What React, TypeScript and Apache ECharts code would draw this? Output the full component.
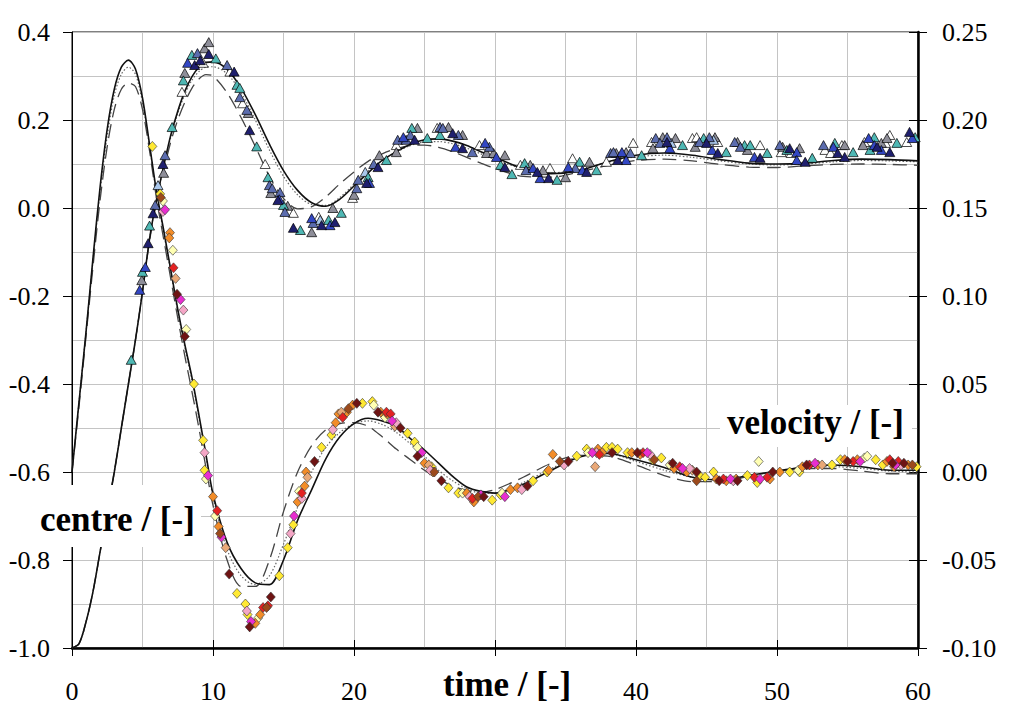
import { useEffect, useRef } from 'react';
import * as echarts from 'echarts';

// sample times shared by the model curves
const curveTime = [
  0, 0.5, 1, 1.5, 2, 2.5, 3, 3.5, 4, 4.5,
  5, 5.5, 6, 6.5, 7, 7.5, 8, 8.5, 9, 9.5,
  10, 11, 12, 13, 14, 15, 16, 17, 18, 19,
  20, 21, 22, 23, 24, 25, 26, 27, 28, 29,
  30, 32, 34, 36, 38, 40, 42, 44, 46, 48,
  50, 52, 54, 56, 58, 60,
];

// centre (left axis)
const centreSolid = [
  -1.0, -0.99, -0.94, -0.87, -0.78, -0.69, -0.6, -0.5, -0.4, -0.3,
  -0.19, -0.07, 0.02, 0.095, 0.165, 0.22, 0.265, 0.298, 0.32, 0.331,
  0.332, 0.315, 0.272, 0.212, 0.145, 0.085, 0.04, 0.012, 0.004, 0.02,
  0.05, 0.08, 0.108, 0.128, 0.145, 0.155, 0.157, 0.152, 0.142, 0.128,
  0.115, 0.09, 0.078, 0.085, 0.105, 0.12, 0.125, 0.12, 0.11, 0.102,
  0.1, 0.102, 0.108, 0.111, 0.11, 0.107,
];
const centreDotted = [
  -1.0, -0.99, -0.94, -0.87, -0.78, -0.69, -0.6, -0.5, -0.4, -0.3,
  -0.19, -0.07, 0.02, 0.093, 0.16, 0.215, 0.258, 0.29, 0.31, 0.32,
  0.321, 0.305, 0.262, 0.2, 0.132, 0.072, 0.03, 0.008, 0.006, 0.024,
  0.054, 0.084, 0.108, 0.127, 0.142, 0.15, 0.151, 0.146, 0.136, 0.123,
  0.11, 0.089, 0.08, 0.087, 0.104, 0.116, 0.12, 0.115, 0.107, 0.1,
  0.098, 0.1, 0.105, 0.108, 0.107, 0.105,
];
const centreDashed = [
  -1.0, -0.99, -0.94, -0.87, -0.78, -0.69, -0.6, -0.5, -0.4, -0.3,
  -0.19, -0.075, 0.015, 0.085, 0.15, 0.2, 0.24, 0.272, 0.293, 0.303,
  0.3, 0.262, 0.205, 0.14, 0.072, 0.022, -0.002, 0.003, 0.025, 0.055,
  0.082, 0.106, 0.123, 0.135, 0.142, 0.143, 0.138, 0.128, 0.115, 0.102,
  0.09, 0.072, 0.07, 0.082, 0.097, 0.108, 0.111, 0.107, 0.099, 0.093,
  0.092, 0.096, 0.099, 0.1, 0.099, 0.097,
];

// velocity (right axis)
const velocitySolid = [
  0.0, 0.04, 0.08, 0.1225, 0.1625, 0.195, 0.2175, 0.23, 0.234, 0.229,
  0.2125, 0.186, 0.159, 0.1375, 0.115, 0.0925, 0.0725, 0.054, 0.0325, 0.01,
  -0.0125, -0.04, -0.055, -0.063, -0.064, -0.05, -0.0275, -0.01, 0.0075, 0.02,
  0.0275, 0.0305, 0.029, 0.026, 0.019, 0.0125, 0.005, -0.0025, -0.0085, -0.011,
  -0.012, -0.007, 0.001, 0.0085, 0.0105, 0.007, 0.0025, -0.003, -0.0045, -0.002,
  0.0005, 0.003, 0.004, 0.003, 0.001, 0.001,
];
const velocityDotted = [
  0.0, 0.04, 0.08, 0.121, 0.16, 0.191, 0.214, 0.226, 0.23, 0.226,
  0.21, 0.185, 0.1575, 0.136, 0.114, 0.091, 0.071, 0.0525, 0.031, 0.009,
  -0.014, -0.044, -0.059, -0.064, -0.059, -0.041, -0.02, 0.0, 0.014, 0.0225,
  0.0275, 0.029, 0.027, 0.0225, 0.016, 0.009, 0.001, -0.005, -0.0095, -0.012,
  -0.012, -0.006, 0.002, 0.009, 0.0105, 0.006, 0.001, -0.003, -0.0045, -0.002,
  0.0005, 0.0025, 0.003, 0.002, 0.0005, 0.0,
];
const velocityDashed = [
  0.0, 0.0375, 0.0775, 0.1175, 0.155, 0.185, 0.206, 0.2175, 0.221, 0.219,
  0.206, 0.1825, 0.155, 0.1325, 0.11, 0.0875, 0.066, 0.046, 0.025, 0.0025,
  -0.019, -0.05, -0.065, -0.065, -0.05, -0.0225, 0.0, 0.015, 0.024, 0.0275,
  0.028, 0.026, 0.02, 0.013, 0.007, 0.001, -0.004, -0.008, -0.0105, -0.0115,
  -0.01, -0.003, 0.005, 0.0095, 0.009, 0.004, -0.002, -0.0055, -0.0055, -0.0025,
  0.0005, 0.002, 0.002, 0.0005, -0.001, -0.001,
];

// measured centre points [time, centre], one list per run colour
const centreNavy = [
  [5.4, -0.08], [5.75, -0.012], [6.45, 0.1], [8.7, 0.325], [9.1, 0.336], [9.7, 0.35], [11.5, 0.31],
  [12.6, 0.177], [14.6, 0.018], [15.7, -0.045], [17.7, -0.039], [18.65, -0.032], [20.9, 0.057],
  [21.7, 0.093], [24.3, 0.155], [27.0, 0.17], [27.7, 0.136], [30.7, 0.093], [33.0, 0.082],
  [33.8, 0.068], [36.5, 0.082], [38.7, 0.109], [42.2, 0.15], [45.0, 0.148], [45.8, 0.125],
  [48.8, 0.114], [50.9, 0.136], [52.0, 0.105], [54.3, 0.125], [54.8, 0.116], [57.1, 0.139],
  [58.0, 0.127], [59.4, 0.173],
];
const centreBlue = [
  [4.8, -0.186], [5.2, -0.134], [8.2, 0.33], [14.7, 0.02], [17.0, -0.023], [18.3, -0.039],
  [21.1, 0.057], [23.5, 0.161], [27.2, 0.139], [29.3, 0.148], [30.1, 0.116], [32.7, 0.091],
  [33.2, 0.068], [35.2, 0.093], [36.2, 0.086], [39.0, 0.127], [39.3, 0.109], [42.4, 0.136],
  [45.4, 0.132], [48.4, 0.116], [51.4, 0.127], [51.4, 0.109], [54.0, 0.139], [56.5, 0.159],
  [56.9, 0.143], [57.4, 0.132], [59.6, 0.159],
];
const centreSlate = [
  [5.9, 0.007], [6.6, 0.12], [8.9, 0.352], [11.0, 0.325], [11.9, 0.252], [12.4, 0.223],
  [14.0, 0.052], [14.2, 0.045], [14.75, 0.036], [15.1, -0.009], [17.1, -0.034], [20.2, 0.045],
  [20.3, 0.064], [21.4, 0.1], [23.1, 0.155], [23.7, 0.155], [24.0, 0.166], [26.1, 0.184],
  [26.3, 0.182], [27.4, 0.166], [28.4, 0.127], [29.6, 0.139], [32.2, 0.086], [35.7, 0.091],
  [38.2, 0.125], [38.4, 0.127], [39.6, 0.125], [41.4, 0.159], [41.7, 0.148], [42.2, 0.161],
  [44.5, 0.15], [45.2, 0.161], [47.0, 0.15], [47.4, 0.139], [50.2, 0.143], [53.3, 0.143],
];
const centreTeal = [
  [4.2, -0.345], [5.0, -0.145], [5.5, -0.04], [7.1, 0.184], [7.9, 0.29], [8.5, 0.348],
  [10.2, 0.34], [11.7, 0.28], [11.9, 0.273], [13.1, 0.14], [13.9, 0.07], [15.0, 0.007],
  [16.2, -0.05], [18.2, -0.027], [19.1, -0.011], [21.0, 0.07], [22.3, 0.109], [24.1, 0.182],
  [25.2, 0.159], [26.1, 0.166], [30.4, 0.098], [31.2, 0.077], [32.1, 0.102], [34.4, 0.064],
  [36.0, 0.105], [37.2, 0.086], [40.4, 0.12], [43.3, 0.143], [44.8, 0.159], [46.4, 0.127],
  [47.7, 0.143], [48.1, 0.143], [49.3, 0.125], [50.7, 0.132], [52.5, 0.114], [54.1, 0.148],
  [55.4, 0.127], [56.6, 0.132], [56.9, 0.161], [58.5, 0.148], [59.8, 0.161],
];
const centreGray = [
  [4.95, -0.164], [6.5, 0.08], [8.0, 0.307], [9.4, 0.363], [9.7, 0.377], [12.5, 0.216],
  [14.1, 0.034], [15.3, 0.005], [17.0, -0.055], [18.5, 0.0], [20.0, 0.03], [21.8, 0.12],
  [23.0, 0.127], [24.5, 0.182], [26.7, 0.184], [27.7, 0.166], [29.4, 0.125], [29.9, 0.125],
  [30.7, 0.12], [32.5, 0.098], [33.4, 0.086], [35.0, 0.07], [36.7, 0.105], [38.6, 0.125],
  [39.3, 0.127], [41.2, 0.136], [41.9, 0.161], [42.8, 0.159], [44.2, 0.139], [45.6, 0.161],
  [47.2, 0.15], [47.9, 0.132], [50.4, 0.139], [51.6, 0.136], [54.8, 0.143], [56.1, 0.143],
  [57.4, 0.148], [57.8, 0.159],
];
const centreWhite = [
  [7.8, 0.264], [9.3, 0.33], [11.2, 0.31], [12.1, 0.238], [13.7, 0.1], [15.7, -0.011],
  [17.5, -0.02], [19.9, 0.023], [23.0, 0.143], [25.9, 0.182], [28.9, 0.143], [31.8, 0.098],
  [33.9, 0.091], [35.5, 0.113], [37.9, 0.105], [39.8, 0.148], [41.1, 0.15], [44.0, 0.159],
  [44.3, 0.161], [45.8, 0.15], [48.8, 0.143], [50.3, 0.127], [51.0, 0.125], [53.4, 0.132],
  [53.8, 0.125], [54.6, 0.143], [56.2, 0.15], [57.7, 0.148], [58.0, 0.166], [59.2, 0.15],
];
const centreLightBlue = [
  [6.1, 0.052], [17.6, -0.027], [20.8, 0.082], [42.5, 0.148], [45.5, 0.155],
];

// measured velocity points [time, velocity], one list per run colour
const velocityYellow = [
  [5.7, 0.185], [6.25, 0.158], [8.65, 0.05], [9.3, 0.018], [9.4, 0.001], [11.7, -0.069],
  [12.3, -0.075], [12.45, -0.081], [14.7, -0.059], [15.3, -0.043], [15.7, -0.03], [17.7, 0.014],
  [18.4, 0.021], [20.6, 0.039], [21.3, 0.04], [23.8, 0.022], [24.3, 0.017], [25.5, 0.003],
  [26.7, -0.009], [27.4, -0.012], [29.8, -0.016], [30.4, -0.013], [32.7, -0.005], [33.7, 0.0],
  [35.8, 0.009], [36.5, 0.013], [37.9, 0.014], [38.3, 0.014], [38.7, 0.013], [39.4, 0.011],
  [41.2, 0.007], [41.8, 0.008], [44.5, -0.002], [44.9, -0.003], [45.5, 0.0], [47.9, -0.002],
  [48.6, -0.006], [50.9, 0.0], [51.6, 0.0], [53.9, 0.004], [54.5, 0.007], [57.0, 0.007],
  [57.5, 0.004], [59.9, 0.003],
];
const velocityLightYellow = [
  [6.45, 0.154], [7.15, 0.126], [8.1, 0.081], [9.5, -0.004], [10.15, -0.025], [13.2, -0.083],
  [16.1, -0.011], [21.4, 0.038], [22.2, 0.031], [24.5, 0.014], [27.7, -0.012], [30.5, -0.012],
  [36.6, 0.011], [42.4, 0.004], [48.7, 0.006], [51.5, 0.001], [56.2, 0.008], [56.4, 0.009],
];
const velocityOrange = [
  [6.95, 0.136], [6.9, 0.133], [10.0, -0.014], [10.4, -0.031], [13.0, -0.086], [13.35, -0.081],
  [16.0, -0.017], [16.6, 0.0], [16.5, -0.008], [18.7, 0.028], [18.9, 0.033], [19.5, 0.034],
  [19.9, 0.038], [21.9, 0.034], [22.35, 0.033], [25.0, 0.005], [25.6, 0.0], [28.0, -0.012],
  [28.5, -0.017], [31.1, -0.01], [31.6, -0.009], [33.8, 0.001], [34.1, 0.01], [37.3, 0.013],
  [37.6, 0.011], [39.7, 0.011], [40.3, 0.01], [42.7, 0.002], [43.6, 0.0], [45.7, -0.004],
  [46.4, -0.005], [47.1, -0.004], [49.5, -0.004], [50.2, 0.0], [51.8, 0.003], [52.9, 0.004],
  [54.8, 0.007], [55.7, 0.007], [57.8, 0.006], [58.3, 0.003], [59.3, 0.004],
];
const velocityRed = [
  [7.2, 0.116], [10.3, -0.022], [13.55, -0.077], [13.9, -0.076], [16.3, -0.012], [19.2, 0.031],
  [22.3, 0.034], [22.6, 0.033], [28.4, -0.015], [37.4, 0.01], [40.5, 0.011], [43.1, 0.003],
  [46.2, -0.004], [48.4, -0.003], [49.3, -0.003], [52.3, 0.004], [55.4, 0.006], [58.0, 0.007],
  [58.6, 0.006],
];
const velocityMaroon = [
  [7.45, 0.101], [8.0, 0.077], [11.15, -0.058], [12.6, -0.088], [14.1, -0.071], [17.2, 0.006],
  [20.2, 0.039], [21.7, 0.034], [23.3, 0.025], [24.5, 0.009], [26.2, -0.005], [29.2, -0.014],
  [32.3, -0.008], [35.2, 0.006], [38.3, 0.011], [40.1, 0.011], [42.6, 0.005], [44.3, 0.0],
  [45.9, -0.005], [47.2, -0.005], [49.7, 0.0], [52.1, 0.004], [55.0, 0.006], [58.2, 0.005],
  [59.0, 0.005],
];
const velocityBrown = [
  [6.3, 0.156], [10.5, -0.035], [13.8, -0.077], [19.6, 0.036], [25.7, 0.0], [28.8, -0.014],
  [34.6, 0.006], [41.3, 0.007], [44.3, -0.005], [59.6, 0.004],
];
const velocityMagenta = [
  [6.6, 0.149], [7.7, 0.098], [9.65, -0.002], [10.6, -0.037], [12.7, -0.085], [15.75, -0.025],
  [22.7, 0.029], [24.8, 0.011], [29.0, -0.013], [30.7, -0.014], [36.9, 0.011], [40.8, 0.011],
  [43.3, 0.002], [46.7, -0.004], [48.8, -0.004], [52.7, 0.005], [55.9, 0.006], [58.4, 0.004],
];
const velocityPink = [
  [6.45, 0.148], [7.9, 0.092], [9.4, 0.011], [12.4, -0.079], [15.5, -0.035], [16.3, -0.015],
  [18.5, 0.024], [23.0, 0.028], [25.4, 0.001], [28.2, -0.014], [31.9, -0.01], [34.9, 0.004],
  [37.2, 0.011], [41.0, 0.01], [43.8, 0.002], [46.9, -0.005], [58.8, 0.004],
];
const velocityTan = [
  [7.35, 0.11], [10.9, -0.043], [16.7, -0.003], [19.1, 0.034], [22.9, 0.026], [25.3, 0.004],
  [37.1, 0.003], [44.0, 0.001], [53.2, 0.004],
];

// the time title covers this tick label in the original
const hiddenTimeLabel = 30;

const serif = '"Liberation Serif", "Times New Roman", serif';
const gridColor = '#c4c4c4';

export default function App() {
  const chartRef = useRef<HTMLDivElement>(null);

  useEffect(() => {
    if (!chartRef.current) return;
    const chart = echarts.init(chartRef.current, null, { renderer: 'svg' });

    const curve = (ys: number[], yAxisIndex: number, lineStyle: any) => ({
      type: 'line',
      yAxisIndex,
      data: curveTime.map((t, i) => [t, ys[i]]),
      symbol: 'none',
      smooth: 0.3,
      lineStyle,
      z: 2,
    });
    const solid = { color: '#111', width: 1.6 };
    const dotted = { color: '#666', width: 1.2, type: [1.5, 2] };
    const dashed = { color: '#444', width: 1.3, type: [14, 7] };

    const triangles = (data: number[][], color: string) => ({
      type: 'scatter',
      yAxisIndex: 0,
      data,
      symbol: 'triangle',
      symbolSize: [10, 9],
      itemStyle: { color, borderColor: '#000', borderWidth: 0.7, opacity: 1 },
      z: 3,
    });
    const diamonds = (data: number[][], color: string) => ({
      type: 'scatter',
      yAxisIndex: 1,
      data,
      symbol: 'diamond',
      symbolSize: [9, 10],
      itemStyle: { color, borderColor: '#333', borderWidth: 0.6, opacity: 1 },
      z: 3,
    });

    const labelStyle = { fontFamily: serif, fontSize: 26, color: '#000' };
    const nameStyle = { fontFamily: serif, fontWeight: 'bold', fontSize: 35, fill: '#000', verticalAlign: 'middle' };

    const option = {
      animation: false,
      backgroundColor: '#fff',
      grid: {
        left: 72,
        right: 95,
        top: 32,
        bottom: 56,
        show: true,
        borderColor: '#000',
        borderWidth: 1,
        backgroundColor: 'transparent',
      },
      xAxis: [
        {
          type: 'value',
          min: 0,
          max: 60,
          interval: 10,
          position: 'bottom',
          axisLine: { show: true, onZero: false, lineStyle: { color: '#000', width: 2.5 } },
          axisTick: { show: true, length: 8, lineStyle: { color: '#000', width: 1 } },
          axisLabel: {
            ...labelStyle,
            margin: 30,
            formatter: (v: number) => (v === hiddenTimeLabel ? '' : String(v)),
          },
          splitLine: { show: true, lineStyle: { color: gridColor, width: 1 } },
          minorTick: { show: false, splitNumber: 2 },
          minorSplitLine: { show: true, lineStyle: { color: gridColor, width: 1 } },
        },
        {
          type: 'value',
          min: 0,
          max: 60,
          interval: 10,
          position: 'bottom',
          axisLine: { show: false, onZero: false },
          axisTick: { show: true, inside: true, length: 8, lineStyle: { color: '#000', width: 1 } },
          axisLabel: { show: false },
          splitLine: { show: false },
        },
      ],
      yAxis: [
        {
          type: 'value',
          min: -1,
          max: 0.4,
          interval: 0.2,
          position: 'left',
          axisLine: { show: true, onZero: false, lineStyle: { color: '#000', width: 1 } },
          axisTick: { show: true, length: 9, lineStyle: { color: '#000', width: 1 } },
          axisLabel: { ...labelStyle, margin: 22, formatter: (v: number) => v.toFixed(1) },
          splitLine: { show: true, lineStyle: { color: gridColor, width: 1 } },
          minorTick: { show: false, splitNumber: 2 },
          minorSplitLine: { show: true, lineStyle: { color: gridColor, width: 1 } },
        },
        {
          type: 'value',
          min: -0.1,
          max: 0.25,
          interval: 0.05,
          position: 'right',
          axisLine: { show: true, onZero: false, lineStyle: { color: '#000', width: 2.5 } },
          axisTick: { show: true, length: 9, lineStyle: { color: '#000', width: 1 } },
          axisLabel: { ...labelStyle, margin: 24, formatter: (v: number) => v.toFixed(2) },
          splitLine: { show: false },
        },
        {
          type: 'value',
          min: -0.1,
          max: 0.25,
          interval: 0.05,
          position: 'right',
          axisLine: { show: false, onZero: false },
          axisTick: { show: true, inside: true, length: 9, lineStyle: { color: '#000', width: 1 } },
          axisLabel: { show: false },
          splitLine: { show: false },
        },
      ],
      series: [
        curve(centreDashed, 0, dashed),
        curve(centreDotted, 0, dotted),
        curve(centreSolid, 0, solid),
        curve(velocityDashed, 1, dashed),
        curve(velocityDotted, 1, dotted),
        curve(velocitySolid, 1, solid),
        triangles(centreWhite, '#ffffff'),
        triangles(centreGray, '#8e8e99'),
        triangles(centreLightBlue, '#a9c6ea'),
        triangles(centreTeal, '#4fb8b4'),
        triangles(centreSlate, '#5b6cae'),
        triangles(centreBlue, '#3347c4'),
        triangles(centreNavy, '#1f1f6e'),
        diamonds(velocityYellow, '#ffe933'),
        diamonds(velocityLightYellow, '#ffffb3'),
        diamonds(velocityOrange, '#f28c28'),
        diamonds(velocityTan, '#e9a877'),
        diamonds(velocityPink, '#f4a6c6'),
        diamonds(velocityRed, '#e32222'),
        diamonds(velocityMagenta, '#e82ed0'),
        diamonds(velocityBrown, '#9c4a1c'),
        diamonds(velocityMaroon, '#6e1414'),
      ],
      graphic: [
        { type: 'rect', z: 50, shape: { x: 35, y: 485, width: 166, height: 62 }, style: { fill: '#fff' } },
        { type: 'text', z: 51, x: 40, y: 519, style: { ...nameStyle, text: 'centre / [-]' } },
        { type: 'rect', z: 50, shape: { x: 720, y: 405, width: 192, height: 42 }, style: { fill: '#fff' } },
        { type: 'text', z: 51, x: 727, y: 422, style: { ...nameStyle, text: 'velocity / [-]' } },
        { type: 'text', z: 51, x: 443, y: 684, style: { ...nameStyle, text: 'time / [-]' } },
      ],
    };

    chart.setOption(option as any);
    return () => chart.dispose();
  }, []);

  return (
    <div
      ref={chartRef}
      style={{ position: 'fixed', left: 0, top: 0, width: '1013px', height: '704px', background: '#fff' }}
    />
  );
}
